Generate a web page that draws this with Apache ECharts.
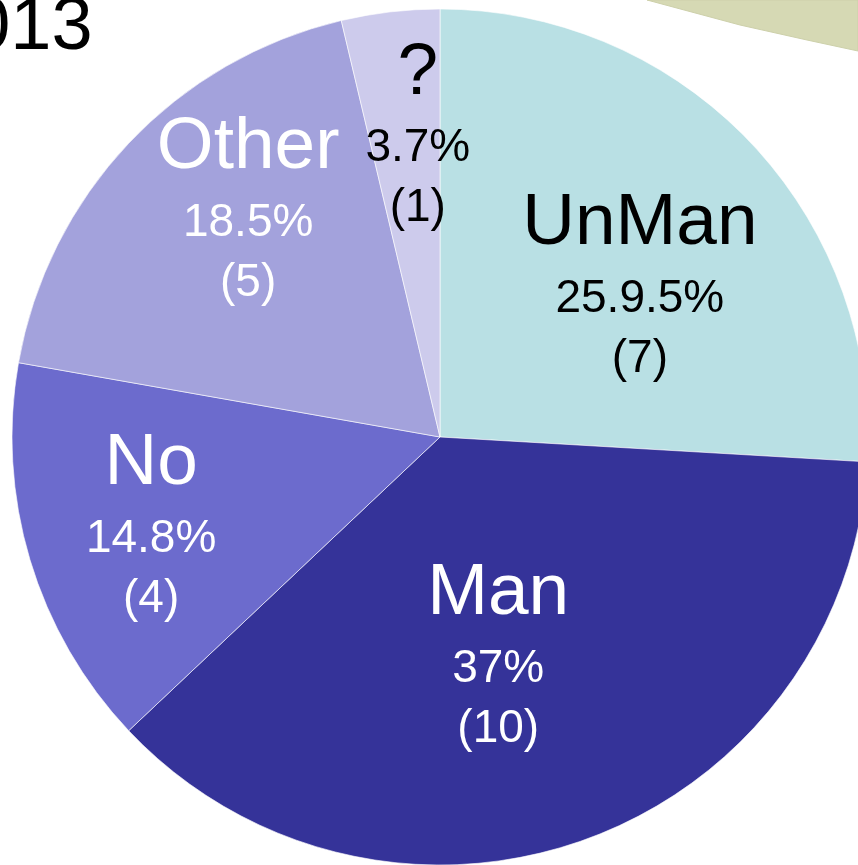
<!DOCTYPE html>
<html>
<head>
<meta charset="utf-8">
<script src="https://cdn.jsdelivr.net/npm/echarts@6/dist/echarts.min.js"></script>
<style>
html, body { margin: 0; padding: 0; background: #fff; }
#pie_img { width: 858px; height: 865px; }
</style>
</head>
<body>
<div id="pie_img"></div>
<script>
// slices clockwise from 12 o'clock
var names = ['UnMan', 'Man', 'No', 'Other', '?'];
var counts = [7, 10, 4, 5, 1];
var pctLabels = ['25.9.5%', '37%', '14.8%', '18.5%', '3.7%'];

var colors = ['#b9e0e4', '#353399', '#6c6bcd', '#a3a2dc', '#cdcbec'];
var textColors = ['#000', '#fff', '#fff', '#fff', '#000'];
// nudge each label away from the default mid-radius spot
var labelShift = [[42, -4], [-16, 13], [-81, 25], [-34, -80], [3, -88]];

var myChart = echarts.init(document.getElementById('pie_img'));

var pieData = names.map(function (n, i) {
    return {
        name: n,
        value: counts[i],
        itemStyle: { color: colors[i] },
        label: {
            rich: {
                n: { fontSize: 73, lineHeight: 90, color: textColors[i] },
                p: { fontSize: 46, lineHeight: 60, color: textColors[i] },
                c: { fontSize: 46, lineHeight: 60, color: textColors[i] }
            }
        }
    };
});

option = {
    animation: false,
    backgroundColor: '#fff',
    textStyle: {
        fontFamily: 'Liberation Sans, Arial, sans-serif'
    },
    graphic: [{
        type: 'polygon',
        shape: {
            points: [[647, 0], [673, 7], [740, 25], [807, 40], [858, 51], [858, 0]]
        },
        style: {
            fill: '#d6d9b4',
            stroke: '#cdd0aa',
            lineWidth: 1
        }
    }, {
        type: 'text',
        x: -72,
        y: 29,
        style: {
            text: '2013',
            fontSize: 74,
            fontFamily: 'Liberation Sans, Arial, sans-serif',
            fill: '#000',
            verticalAlign: 'middle'
        }
    }],
    series: [{
        name: 'pie',
        type: 'pie',
        center: [440, 437],
        radius: 428,
        startAngle: 90,
        clockwise: true,
        itemStyle: {
            borderColor: 'rgba(255,255,255,0.6)',
            borderWidth: 1
        },
        label: {
            show: true,
            position: 'inside',
            fontFamily: 'Liberation Sans, Arial, sans-serif',
            formatter: function (p) {
                return '{n|' + p.name + '}\n{p|' + pctLabels[p.dataIndex] + '}\n{c|(' + p.value + ')}';
            }
        },
        labelLine: { show: false },
        labelLayout: function (params) {
            var s = labelShift[params.dataIndex];
            return { dx: s[0], dy: s[1], hideOverlap: false };
        },
        emphasis: { disabled: true },
        data: pieData
    }]
};

myChart.setOption(option);
</script>
</body>
</html>
